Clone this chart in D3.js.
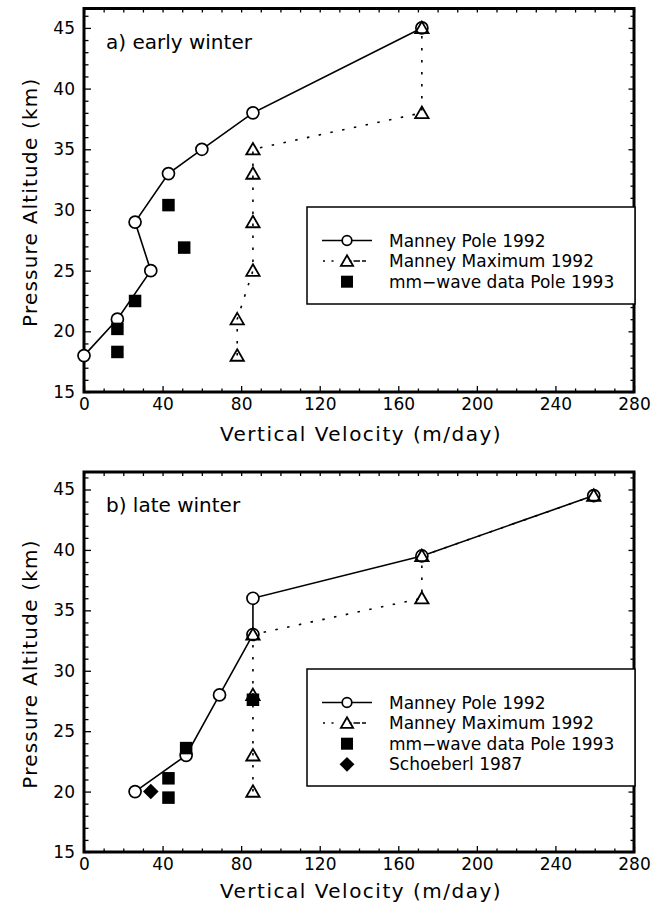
<!DOCTYPE html>
<html>
<head>
<meta charset="utf-8">
<script src="https://cdn.jsdelivr.net/npm/d3@7"></script>
<style>
  html, body { margin: 0; padding: 0; background: #fff; }
  svg { display: block; }
  text { font-family: "DejaVu Sans", sans-serif; fill: #000; }
</style>
</head>
<body>
<script>
// ---- data ----
const xTickValues = [0, 40, 80, 120, 160, 200, 240, 280];
const yTickValues = [15, 20, 25, 30, 35, 40, 45];

// a) early winter
const earlyPoleVel = [0, 17, 34, 26, 43, 60, 86, 172];
const earlyPoleAlt = [18, 21, 25, 29, 33, 35, 38, 45];
const earlyMaxVel = [78, 78, 86, 86, 86, 86, 172, 172];
const earlyMaxAlt = [18, 21, 25, 29, 33, 35, 38, 45];
const earlyMmVel = [17, 17, 26, 51, 43];
const earlyMmAlt = [18.3, 20.2, 22.5, 26.9, 30.4];

// b) late winter
const latePoleVel = [26, 52, 69, 86, 86, 172, 259.5];
const latePoleAlt = [20, 23, 28, 33, 36, 39.5, 44.5];
const lateMaxVel = [86, 86, 86, 86, 172, 172, 259.5];
const lateMaxAlt = [20, 23, 28, 33, 36, 39.5, 44.5];
const lateMmVel = [43, 43, 52, 86];
const lateMmAlt = [19.5, 21.1, 23.6, 27.6];
const schoeberlVel = [34];
const schoeberlAlt = [20];

const seriesNames = ["Manney Pole 1992", "Manney Maximum 1992", "mm\u2212wave data Pole 1993", "Schoeberl 1987"];

const zip = (xs, ys) => xs.map((x, i) => [x, ys[i]]);

// ---- drawing ----
const svg = d3.select("body").append("svg").attr("width", 656).attr("height", 904);

// open triangle symbol (apex up)
const triangleType = {
  draw(ctx, size) {
    const s = Math.sqrt(size);
    ctx.moveTo(0, -0.55 * s);
    ctx.lineTo(0.58 * s, 0.45 * s);
    ctx.lineTo(-0.58 * s, 0.45 * s);
    ctx.closePath();
  }
};

function drawCircle(g, x, y, r) {
  g.append("circle").attr("cx", x).attr("cy", y).attr("r", r)
    .attr("fill", "#fff").attr("stroke", "#000").attr("stroke-width", 1.7);
}
function drawTriangle(g, x, y, s) {
  g.append("path").attr("d", d3.symbol().type(triangleType).size(s * s)())
    .attr("transform", `translate(${x},${y})`)
    .attr("fill", "none").attr("stroke", "#000").attr("stroke-width", 1.8);
}
function drawSquare(g, x, y, s) {
  g.append("rect").attr("x", x - s / 2).attr("y", y - s / 2)
    .attr("width", s).attr("height", s).attr("fill", "#000");
}
// filled diamond: a square turned by 45 degrees
function drawDiamond(g, x, y, side) {
  g.append("path").attr("d", d3.symbol().type(d3.symbolSquare).size(side * side)())
    .attr("transform", `translate(${x},${y}) rotate(45)`).attr("fill", "#000");
}

function panel(cfg) {
  const left = 84, right = 634;
  const x = d3.scaleLinear().domain([0, 280]).range([left, right]);
  const y = d3.scaleLinear().domain([15, cfg.yMax]).range([cfg.bottom, cfg.top]);
  const g = svg.append("g");

  // ticks (inward) on all four sides
  const tickAxis = (axis, values, size, fmt, transform, pad) => {
    const a = axis.tickValues(values).tickSize(-size).tickPadding(pad || 0);
    a.tickFormat(fmt || (() => ""));
    const ag = g.append("g").attr("transform", transform).call(a);
    ag.select(".domain").remove();
    ag.selectAll("line").attr("stroke", "#000").attr("stroke-width", 1.3);
    return ag;
  };
  const xMinor = d3.range(0, 281, 10).filter(v => v % 40 !== 0);
  const yMinor = d3.range(15, Math.floor(cfg.yMax) + 1, 1).filter(v => v % 5 !== 0);

  tickAxis(d3.axisBottom(x), xMinor, 3.5, null, `translate(0,${cfg.bottom})`);
  const xa = tickAxis(d3.axisBottom(x), xTickValues, 6, d3.format("d"), `translate(0,${cfg.bottom})`, 6);
  xa.selectAll("text").attr("font-size", 17).style("font-family", "DejaVu Sans, sans-serif");
  tickAxis(d3.axisTop(x), d3.range(0, 281, 10), 4, null, `translate(0,${cfg.top})`);

  tickAxis(d3.axisLeft(y), yMinor, 4.5, null, `translate(${left},0)`);
  const ya = tickAxis(d3.axisLeft(y), yTickValues, 7, d3.format("d"), `translate(${left},0)`, 9);
  ya.selectAll("text").attr("font-size", 17).style("font-family", "DejaVu Sans, sans-serif");
  tickAxis(d3.axisRight(y), yMinor, 3.5, null, `translate(${right},0)`);
  tickAxis(d3.axisRight(y), yTickValues, 5.5, null, `translate(${right},0)`);

  // frame
  g.append("rect").attr("x", left).attr("y", cfg.top)
    .attr("width", right - left).attr("height", cfg.bottom - cfg.top)
    .attr("fill", "none").attr("stroke", "#000").attr("stroke-width", 3);

  // axis titles
  g.append("text").attr("x", 361).attr("y", cfg.bottom + cfg.titleGap)
    .attr("text-anchor", "middle").attr("font-size", 20).attr("letter-spacing", 1.5)
    .text("Vertical Velocity (m/day)");
  g.append("text")
    .attr("transform", `translate(37,${(cfg.top + cfg.bottom) / 2 + 2}) rotate(-90)`)
    .attr("text-anchor", "middle").attr("font-size", 20).attr("letter-spacing", 1.2)
    .text("Pressure Altitude (km)");

  // panel label
  g.append("text").attr("x", 106).attr("y", cfg.top + 40)
    .attr("font-size", 20).text(cfg.label);

  // legend
  const lg = g.append("g");
  const lb = cfg.legend;
  lg.append("rect").attr("x", 307).attr("y", lb.top).attr("width", 328).attr("height", lb.height)
    .attr("fill", "#fff").attr("stroke", "#000").attr("stroke-width", 1.5);
  const rowY = i => lb.top + 33.5 + i * 20.6;
  cfg.legendItems.forEach((name, i) => {
    const cy = rowY(i);
    if (i === 0) {
      lg.append("line").attr("x1", 322).attr("x2", 372).attr("y1", cy).attr("y2", cy)
        .attr("stroke", "#000").attr("stroke-width", 1.7);
      drawCircle(lg, 347, cy, 4.8);
    } else if (i === 1) {
      lg.append("line").attr("x1", 323).attr("x2", 366).attr("y1", cy).attr("y2", cy)
        .attr("stroke", "#000").attr("stroke-width", 1.5).attr("stroke-dasharray", "2,6.5,2,16,2");
      drawTriangle(lg, 347, cy, 10.5);
    } else if (i === 2) {
      drawSquare(lg, 347, cy, 12);
    } else {
      drawDiamond(lg, 347, cy, 10.5);
    }
    lg.append("text").attr("x", 389).attr("y", cy + 6).attr("font-size", 17).text(name);
  });

  // series
  const plotG = g.append("g");
  const line = d3.line().x(d => x(d[0])).y(d => y(d[1]));
  const maxPts = zip(cfg.maxVel, cfg.maxAlt);
  const polePts = zip(cfg.poleVel, cfg.poleAlt);
  plotG.append("path").attr("d", line(maxPts)).attr("fill", "none")
    .attr("stroke", "#000").attr("stroke-width", 1.6).attr("stroke-dasharray", "2.5,9.5");
  plotG.append("path").attr("d", line(polePts)).attr("fill", "none")
    .attr("stroke", "#000").attr("stroke-width", 1.6);
  polePts.forEach(p => drawCircle(plotG, x(p[0]), y(p[1]), 6));
  maxPts.forEach(p => drawTriangle(plotG, x(p[0]), y(p[1]), 11.5));
  zip(cfg.mmVel, cfg.mmAlt).forEach(p => drawSquare(plotG, x(p[0]), y(p[1]), 12.5));
  if (cfg.diamVel) zip(cfg.diamVel, cfg.diamAlt).forEach(p => drawDiamond(plotG, x(p[0]), y(p[1]), 11));
}

panel({
  top: 8.5, bottom: 392, yMax: 46.6, titleGap: 49, label: "a) early winter",
  poleVel: earlyPoleVel, poleAlt: earlyPoleAlt,
  maxVel: earlyMaxVel, maxAlt: earlyMaxAlt,
  mmVel: earlyMmVel, mmAlt: earlyMmAlt,
  legend: { top: 207, height: 97 },
  legendItems: seriesNames.slice(0, 3)
});

panel({
  top: 472, bottom: 852, yMax: 46.45, titleGap: 46, label: "b) late winter",
  poleVel: latePoleVel, poleAlt: latePoleAlt,
  maxVel: lateMaxVel, maxAlt: lateMaxAlt,
  mmVel: lateMmVel, mmAlt: lateMmAlt,
  diamVel: schoeberlVel, diamAlt: schoeberlAlt,
  legend: { top: 669, height: 117 },
  legendItems: seriesNames
});
</script>
</body>
</html>
